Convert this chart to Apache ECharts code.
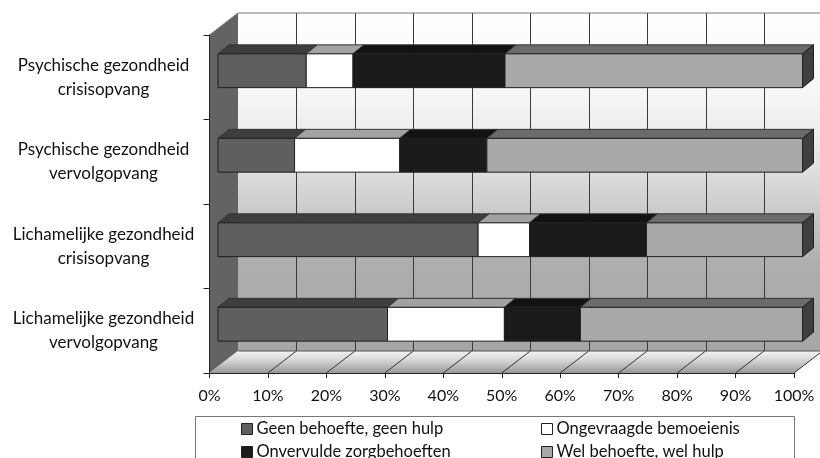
<!DOCTYPE html>
<html>
<head>
<meta charset="utf-8">
<style>html,body{margin:0;padding:0;background:#fff}#chart{width:820px;height:458px}</style>
<script src="https://cdn.jsdelivr.net/npm/echarts@6/dist/echarts.min.js"></script>
</head>
<body>
<div id="chart"></div>
<script>
// Hulpbehoefte per doelgroep, in procenten per rij
const categories = [
  'Psychische gezondheid\ncrisisopvang',
  'Psychische gezondheid\nvervolgopvang',
  'Lichamelijke gezondheid\ncrisisopvang',
  'Lichamelijke gezondheid\nvervolgopvang'
];
const geenBehoefte = [15.1, 13.1, 44.5, 29];
const ongevraagd = [8, 18, 8.8, 20];
const onvervuld = [26, 14.9, 20, 13];
const welBehoefte = [50.9, 54, 26.7, 38];
const percentTicks = [0, 10, 20, 30, 40, 50, 60, 70, 80, 90, 100];

const FONT = 'Lato';
const DEPTH = [28.5, -22];        // diepte van de plotruimte
const BAR_SHIFT = [8.5, -6.5];    // plaats van de balk binnen die diepte
const BAR_DEPTH = [11, -9];       // diepte van de balk zelf
const BAR_RATIO = 0.4;

const snap = v => Math.round(v) + 0.5;

// Achterwand, zijwand, vloer en rasterlijnen
function renderRoom(params, api) {
  const cs = params.coordSys;
  const left = cs.x, right = cs.x + cs.width, top = cs.y, bottom = cs.y + cs.height;
  const [dx, dy] = DEPTH;
  const children = [];
  children.push({
    type: 'polygon',
    shape: { points: [[left + dx, top + dy], [right + dx, top + dy], [right + dx, bottom + dy], [left + dx, bottom + dy]] },
    style: {
      fill: { type: 'linear', x: 0, y: 0, x2: 0, y2: 1, colorStops: [
        { offset: 0, color: '#ffffff' }, { offset: 0.2, color: '#f8f8f8' },
        { offset: 0.38, color: '#ececec' }, { offset: 0.56, color: '#cfcfcf' },
        { offset: 0.74, color: '#aeaeae' }, { offset: 1, color: '#a6a6a6' }
      ] }
    }
  });
  children.push({
    type: 'polygon',
    shape: { points: [[left, top], [left + dx, top + dy], [left + dx, bottom + dy], [left, bottom]] },
    style: { fill: '#636363' }
  });
  children.push({
    type: 'polygon',
    shape: { points: [[left, bottom], [left + dx, bottom + dy], [right + dx, bottom + dy], [right, bottom]] },
    style: {
      fill: { type: 'linear', x: 0, y: 0, x2: 0, y2: 1, colorStops: [
        { offset: 0, color: '#f4f4f4' }, { offset: 0.4, color: '#d8d8d8' }, { offset: 1, color: '#989898' }
      ] }
    }
  });
  percentTicks.forEach(t => {
    const x = api.coord([t, 0])[0];
    if (t > 0) {
      children.push({
        type: 'line',
        shape: { x1: snap(x + dx), y1: top + dy, x2: snap(x + dx), y2: bottom + dy },
        style: { stroke: '#3a3a3a', lineWidth: 1 }
      });
      children.push({
        type: 'line',
        shape: { x1: x, y1: bottom, x2: x + dx, y2: bottom + dy },
        style: { stroke: '#333333', lineWidth: 1 }
      });
    }
  });
  children.push({
    type: 'polyline',
    shape: { points: [[left, top], [left + dx, top + dy], [right + dx, top + dy]] },
    style: { stroke: '#777777', lineWidth: 1, fill: null }
  });
  children.push({
    type: 'line',
    shape: { x1: left + dx, y1: bottom + dy, x2: right + dx, y2: bottom + dy },
    style: { stroke: '#555555', lineWidth: 1 }
  });
  return { type: 'group', children };
}

// Eén balksegment met voorvlak, bovenvlak en eventueel zijvlak
function segmentRenderer(front, topFace, sideFace) {
  return function (params, api) {
    const start = api.value(0), end = api.value(1), row = api.value(2);
    const band = api.size([0, 1])[1];
    const h = band * BAR_RATIO;
    const a = api.coord([start, row]);
    const b = api.coord([end, row]);
    const x1 = a[0] + BAR_SHIFT[0], x2 = b[0] + BAR_SHIFT[0];
    const y1 = a[1] + BAR_SHIFT[1] - h / 2, y2 = y1 + h;
    const [dx, dy] = BAR_DEPTH;
    const edge = { stroke: '#1f1f1f', lineWidth: 1, lineJoin: 'round' };
    const children = [
      { type: 'polygon', shape: { points: [[x1, y1], [x1 + dx, y1 + dy], [x2 + dx, y1 + dy], [x2, y1]] },
        style: Object.assign({ fill: topFace }, edge, { stroke: '#333333' }) },
      { type: 'rect', shape: { x: x1, y: y1, width: x2 - x1, height: h },
        style: Object.assign({ fill: front }, edge) }
    ];
    if (sideFace) {
      children.push({
        type: 'polygon',
        shape: { points: [[x2, y1], [x2 + dx, y1 + dy], [x2 + dx, y2 + dy], [x2, y2]] },
        style: Object.assign({ fill: sideFace }, edge)
      });
    }
    return { type: 'group', children };
  };
}

// Beginpunt en eindpunt van elk segment volgen uit de voorgaande reeksen
const stacks = [geenBehoefte, ongevraagd, onvervuld, welBehoefte];
function segmentData(index) {
  return categories.map((_, row) => {
    let start = 0;
    for (let i = 0; i < index; i++) start += stacks[i][row];
    return [start, start + stacks[index][row], row];
  });
}

function barSeries(name, index, front, topFace, sideFace) {
  return {
    name,
    type: 'custom',
    z: 3,
    silent: true,
    clip: false,
    itemStyle: { color: front },
    encode: { x: [0, 1], y: 2 },
    data: segmentData(index),
    renderItem: segmentRenderer(front, topFace, sideFace)
  };
}

const legendBase = {
  orient: 'vertical',
  top: 420,
  height: 60,
  icon: 'rect',
  itemWidth: 11,
  itemHeight: 11,
  itemGap: 5,
  padding: 0,
  textStyle: { fontFamily: FONT, fontSize: 16.5, color: '#111111', lineHeight: 18, padding: [0, 0, 0, -1] },
  itemStyle: { borderColor: '#222222', borderWidth: 1 },
  selectedMode: false
};

const chart = echarts.init(document.getElementById('chart'), null, { renderer: 'canvas' });
chart.setOption({
  animation: false,
  backgroundColor: '#ffffff',
  grid: { left: 209.5, top: 35, width: 584.5, height: 338, containLabel: false },
  xAxis: {
    type: 'value',
    min: 0,
    max: 100,
    interval: 10,
    z: 2,
    splitLine: { show: false },
    axisLine: { show: true, lineStyle: { color: '#222222', width: 1 } },
    axisTick: { show: true, length: 5, lineStyle: { color: '#222222', width: 1 } },
    axisLabel: {
      formatter: '{value}%',
      margin: 15,
      fontFamily: FONT,
      fontSize: 16,
      color: '#111111',
      hideOverlap: false
    }
  },
  yAxis: {
    type: 'category',
    inverse: true,
    data: categories,
    z: 2,
    axisLine: { show: true, lineStyle: { color: '#222222', width: 1 } },
    axisTick: { show: true, length: 6, lineStyle: { color: '#222222', width: 1 } },
    axisLabel: {
      align: 'center',
      margin: 106,
      lineHeight: 24,
      padding: [3, 0, 0, 0],
      fontFamily: FONT,
      fontSize: 17,
      color: '#111111',
      interval: 0
    }
  },
  legend: [
    Object.assign({}, legendBase, { left: 241, data: ['Geen behoefte, geen hulp', 'Onvervulde zorgbehoeften'] }),
    Object.assign({}, legendBase, { left: 541, data: ['Ongevraagde bemoeienis', 'Wel behoefte, wel hulp'] })
  ],
  graphic: [{
    type: 'rect',
    z: 0,
    silent: true,
    shape: { x: 195.5, y: 416.5, width: 599, height: 60 },
    style: { fill: '#ffffff', stroke: '#777777', lineWidth: 1 }
  }],
  series: [
    { type: 'custom', z: 1, silent: true, clip: false, data: [[0, 0]], encode: { x: 0, y: 1 }, renderItem: renderRoom },
    barSeries('Geen behoefte, geen hulp', 0, '#5f5f5f', '#3e3e3e'),
    barSeries('Ongevraagde bemoeienis', 1, '#ffffff', '#a2a2a2'),
    barSeries('Onvervulde zorgbehoeften', 2, '#1b1b1b', '#121212'),
    barSeries('Wel behoefte, wel hulp', 3, '#a9a9a9', '#6b6b6b', '#3f3f3f')
  ]
});
</script>
</body>
</html>
